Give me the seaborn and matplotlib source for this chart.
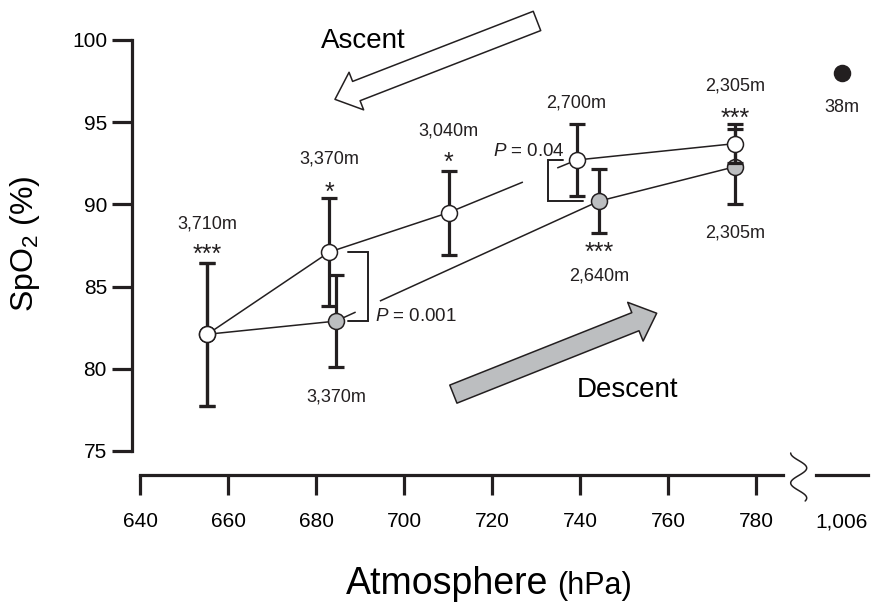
import numpy as np
import seaborn as sns
import matplotlib
matplotlib.use("Agg")
import matplotlib.pyplot as plt
from matplotlib.patches import FancyArrowPatch
from matplotlib.lines import Line2D

# ---------------- data ----------------
asc_hpa = [655.3, 683.0, 710.1, 739.2, 775.3]
asc_spo2 = [82.1, 87.1, 89.5, 92.7, 93.7]
asc_sd = [4.35, 3.3, 2.55, 2.2, 1.2]
asc_alt = ["3,710m", "3,370m", "3,040m", "2,700m", "2,305m"]
asc_sig = ["***", "*", "*", "", "***"]

desc_hpa = [655.3, 684.5, 744.3, 775.3]
desc_spo2 = [82.1, 82.9, 90.2, 92.3]
desc_sd = [4.35, 2.8, 1.95, 2.3]
desc_alt = ["", "3,370m", "2,640m", "2,305m"]
desc_sig = ["", "", "***", ""]

sea_hpa = [1006]
sea_spo2 = [98.0]
sea_alt = ["38m"]

x_ticks = [640, 660, 680, 700, 720, 740, 760, 780]
y_ticks = [75, 80, 85, 90, 95, 100]
p_labels = ["$\\mathit{P}$ = 0.001", "$\\mathit{P}$ = 0.04"]

# annotation placement (label baselines in SpO2 units)
asc_lab_y = [88.55, 92.5, 94.22, 95.88, 96.92]
asc_sig_y = [86.5, 90.25, 92.1, None, 94.8]
desc_lab_y = [None, 78.0, 85.4, 87.97]
desc_sig_y = [None, None, 86.65, None]

# ---------------- style ----------------
sns.set_style("ticks")
plt.rcParams["font.family"] = ["Liberation Sans", "DejaVu Sans"]
plt.rcParams["mathtext.fontset"] = "custom"
plt.rcParams["mathtext.rm"] = "Liberation Sans"
plt.rcParams["mathtext.it"] = "Liberation Sans:italic"
plt.rcParams["mathtext.default"] = "rm"

DARK = "#231f20"
GRAY = "#bcbec0"
W, H = 873, 602

fig = plt.figure(figsize=(W / 100, H / 100), dpi=100)
ax = fig.add_axes([132 / W, 1 - 451 / H, 651 / W, 411 / H])
ax2 = fig.add_axes([816 / W, 1 - 451 / H, 52 / W, 411 / H], sharey=ax)

XMIN, XMAX = 638.18, 786.1
ax.set_xlim(XMIN, XMAX)
ax.set_ylim(75, 100)
ax2.set_xlim(1000, 1012)

# connecting lines
sns.lineplot(x=asc_hpa, y=asc_spo2, ax=ax, color=DARK, lw=1.1, sort=False,
             zorder=1, estimator=None)
sns.lineplot(x=desc_hpa, y=desc_spo2, ax=ax, color=DARK, lw=1.1, sort=False,
             zorder=1, estimator=None)

# small breaks in the lines where the P brackets sit
gap_asc = [727.0, 734.8]
gap_desc = [689.0, 694.5]
ax.plot(gap_asc, np.interp(gap_asc, asc_hpa, asc_spo2), color="white", lw=3,
        zorder=1.5, solid_capstyle="butt")
ax.plot(gap_desc, np.interp(gap_desc, desc_hpa, desc_spo2), color="white",
        lw=3, zorder=1.5, solid_capstyle="butt")

eb_kw = dict(fmt="none", ecolor=DARK, elinewidth=2.3, capsize=5.8, capthick=2.3)
ax.errorbar(desc_hpa, desc_spo2, yerr=desc_sd, zorder=2, **eb_kw)
sns.scatterplot(x=desc_hpa, y=desc_spo2, ax=ax, s=11.5 ** 2, color=GRAY,
                edgecolor=DARK, linewidth=1.1, zorder=3, clip_on=False)
ax.errorbar(asc_hpa, asc_spo2, yerr=asc_sd, zorder=4, **eb_kw)
sns.scatterplot(x=asc_hpa, y=asc_spo2, ax=ax, s=11.5 ** 2, color="white",
                edgecolor=DARK, linewidth=1.1, zorder=5, clip_on=False)

sns.scatterplot(x=sea_hpa, y=sea_spo2, ax=ax2, s=11.5 ** 2, color=DARK,
                edgecolor=DARK, linewidth=1.1, zorder=5, clip_on=False)

# altitude labels + significance stars
LAB_FS, STAR_FS = 13, 18
for x, lab, ly, sig, sy in zip(asc_hpa, asc_alt, asc_lab_y, asc_sig, asc_sig_y):
    ax.text(x, ly, lab, ha="center", va="baseline", fontsize=LAB_FS, color=DARK)
    if sig:
        ax.text(x, sy, sig, ha="center", va="baseline", fontsize=STAR_FS, color=DARK)
for x, lab, ly, sig, sy in zip(desc_hpa, desc_alt, desc_lab_y, desc_sig, desc_sig_y):
    if lab:
        ax.text(x, ly, lab, ha="center", va="baseline", fontsize=LAB_FS, color=DARK)
    if sig:
        ax.text(x, sy, sig, ha="center", va="baseline", fontsize=STAR_FS, color=DARK)
ax2.text(sea_hpa[0], 95.64, sea_alt[0], ha="center", va="baseline",
         fontsize=LAB_FS, color=DARK)

# P brackets
br_kw = dict(color=DARK, lw=1.4, zorder=2.5, solid_joinstyle="miter",
             clip_on=False)
ax.plot([687.3, 691.9, 691.9, 687.3],
        [asc_spo2[1], asc_spo2[1], desc_spo2[1], desc_spo2[1]], **br_kw)
ax.plot([736.1, 732.8, 732.8, 740.7],
        [asc_spo2[3], asc_spo2[3], desc_spo2[2], desc_spo2[2]], **br_kw)
ax.text(693.4, 82.93, p_labels[0], ha="left", va="baseline", fontsize=13.5,
        color=DARK)
ax.text(736.6, 92.94, p_labels[1], ha="right", va="baseline", fontsize=13.5,
        color=DARK)

# Ascent / Descent arrows
asc_arrow = FancyArrowPatch(
    posA=(730.2, 101.16), posB=(684.3, 96.39),
    arrowstyle="simple,head_length=16.5,head_width=29,tail_width=14.9",
    mutation_scale=1, shrinkA=0, shrinkB=0, facecolor="white",
    edgecolor=DARK, lw=1.1, clip_on=False, zorder=6)
ax.add_patch(asc_arrow)
desc_arrow = FancyArrowPatch(
    posA=(711.2, 78.46), posB=(757.4, 83.38),
    arrowstyle="simple,head_length=16.5,head_width=30,tail_width=14",
    mutation_scale=1, shrinkA=0, shrinkB=0, facecolor=GRAY,
    edgecolor=DARK, lw=1.1, clip_on=False, zorder=6)
ax.add_patch(desc_arrow)
ax.text(690.7, 99.51, "Ascent", ha="center", va="baseline", fontsize=20,
        color="black")
ax.text(750.8, 78.30, "Descent", ha="center", va="baseline", fontsize=20,
        color="black")

# ---------------- axes styling ----------------
SPW = 2.3
OFF = 17.3
ax.set_xticks(x_ticks)
ax.set_xticklabels([str(v) for v in x_ticks])
ax.set_yticks(y_ticks)
ax.set_yticklabels([str(v) for v in y_ticks])
for s in ["top", "right"]:
    ax.spines[s].set_visible(False)
ax.spines["left"].set_bounds(75, 100)
ax.spines["bottom"].set_bounds(640, XMAX)
ax.spines["bottom"].set_position(("outward", OFF))
for s in ["left", "bottom"]:
    ax.spines[s].set_linewidth(SPW)
    ax.spines[s].set_color(DARK)
ax.tick_params(axis="both", direction="out", length=14.4, width=SPW,
               color=DARK, labelsize=15, labelcolor="black")
ax.tick_params(axis="x", pad=12.5)
ax.tick_params(axis="y", pad=3.6)
ax.set_xlabel("")
ax.set_ylabel("")

for s in ["top", "right", "left"]:
    ax2.spines[s].set_visible(False)
ax2.spines["bottom"].set_position(("outward", OFF))
ax2.spines["bottom"].set_linewidth(SPW)
ax2.spines["bottom"].set_color(DARK)
ax2.set_xticks(sea_hpa)
ax2.set_xticklabels(["1,006"])
ax2.tick_params(axis="x", direction="out", length=14.4, width=0, pad=12.5,
                labelsize=15, labelcolor="black")
ax2.tick_params(axis="y", left=False, labelleft=False)
ax2.set_xlabel("")
ax2.set_ylabel("")
ax2.patch.set_visible(False)

# axis break squiggle (figure pixel coordinates)
py = np.linspace(453, 501, 80)
px = 798.7 - 8 * np.cos(2 * np.pi * (py - 453) / 30)
fig.add_artist(Line2D(px / W, 1 - py / H, transform=fig.transFigure,
                      color=DARK, lw=1.1))

# axis titles
fig.text(548 / W, 1 - 594 / H, "Atmosphere", ha="right", va="baseline",
         fontsize=27, color="black")
fig.text(557 / W, 1 - 594 / H, "(hPa)", ha="left", va="baseline",
         fontsize=22, color="black")
fig.text(33.3 / W, 1 - 244 / H, "SpO$_2$ (%)", rotation=90,
         rotation_mode="anchor", ha="center", va="baseline", fontsize=23,
         color="black")

fig.savefig("out.png", dpi=100)
